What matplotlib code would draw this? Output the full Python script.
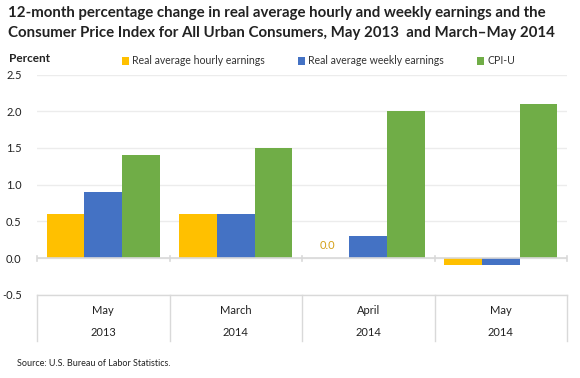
import matplotlib
matplotlib.use("Agg")
import matplotlib.pyplot as plt
import matplotlib.transforms as mtransforms
import numpy as np

months = ["May", "March", "April", "May"]
years = ["2013", "2014", "2014", "2014"]
hourly = [0.6, 0.6, 0.0, -0.1]
weekly = [0.9, 0.6, 0.3, -0.1]
cpi = [1.4, 1.5, 2.0, 2.1]
series_names = ["Real average hourly earnings", "Real average weekly earnings", "CPI-U"]
colors = ["#ffc000", "#4472c4", "#70ad47"]
yticks = [-0.5, 0.0, 0.5, 1.0, 1.5, 2.0, 2.5]

plt.rcParams['font.family'] = ['Lato', 'DejaVu Sans']

fig = plt.figure(figsize=(5.8, 3.78), dpi=100)
W, H = 580, 378
ax = fig.add_axes([37 / W, 1 - 294.8 / H, (567 - 37) / W, (294.8 - 74.5) / H])

x = np.arange(len(months))
bw = 0.285
handles = []
for i, (vals, name, c) in enumerate(zip([hourly, weekly, cpi], series_names, colors)):
    b = ax.bar(x + (i - 1) * bw, vals, bw, color=c, label=name, zorder=3)
    handles.append(b)

# zero label for April hourly
for xi, v in zip(x, hourly):
    if v == 0:
        ax.text(xi - bw - 0.02, 0.17, "0.0", ha="center", va="center", fontsize=8,
                color="#d4a017", zorder=4)

ax.set_xlim(-0.5, len(months) - 0.5)
ax.set_ylim(-0.5, 2.5)
ax.set_yticks(yticks)
ax.set_yticklabels(["%.1f" % t for t in yticks], fontsize=8, color="#222222")
ax.tick_params(axis="y", length=0, pad=11)
ax.set_xticks([])
ax.grid(axis="y", color="#ececec", linewidth=1, zorder=0)
for s in ax.spines.values():
    s.set_visible(False)

# zero axis line with ticks at category boundaries
ax.axhline(0, color="#d9d9d9", linewidth=1.2, zorder=4)
trans = mtransforms.blended_transform_factory(ax.transData, ax.transAxes)
bounds = np.arange(len(months) + 1) - 0.5
for bx in bounds:
    ax.plot([bx, bx], [-0.035, 0.035], color="#d9d9d9", linewidth=1.2,
            clip_on=False, zorder=4)
    # category table separators below the plot
    ax.plot([bx, bx], [0, -46 / 220.3], color="#d9d9d9", linewidth=1,
            transform=trans, clip_on=False)
ax.plot([-0.5, len(months) - 0.5], [0, 0], color="#d9d9d9", linewidth=1,
        transform=trans, clip_on=False)

for xi, m, yr in zip(x, months, years):
    ax.text(xi, -16 / 220.3, m, transform=trans, ha="center", va="center",
            fontsize=8, color="#222222")
    ax.text(xi, -38 / 220.3, yr, transform=trans, ha="center", va="center",
            fontsize=8, color="#222222")

fig.text(8 / W, 1 - 13 / H, "12-month percentage change in real average hourly and weekly earnings and the",
         fontsize=10.8, fontweight="bold", color="#222222", va="center", ha="left")
fig.text(8 / W, 1 - 33 / H, "Consumer Price Index for All Urban Consumers, May 2013  and March\u2013May 2014",
         fontsize=10.8, fontweight="bold", color="#222222", va="center", ha="left")
fig.text(9 / W, 1 - 59 / H, "Percent", fontsize=8.5, fontweight="bold",
         color="#222222", va="center", ha="left")
fig.text(17 / W, 1 - 363 / H, "Source: U.S. Bureau of Labor Statistics.", fontsize=6.5,
         color="#222222", va="center", ha="left")

fig.legend(handles=handles, labels=series_names, loc="center left",
           bbox_to_anchor=(112 / W, 1 - 61 / H), ncol=3, frameon=False,
           fontsize=7.6, handlelength=0.7, handleheight=0.7, handletextpad=0.3,
           columnspacing=3.1, labelcolor="#333333")

fig.savefig("out.png", dpi=100)
